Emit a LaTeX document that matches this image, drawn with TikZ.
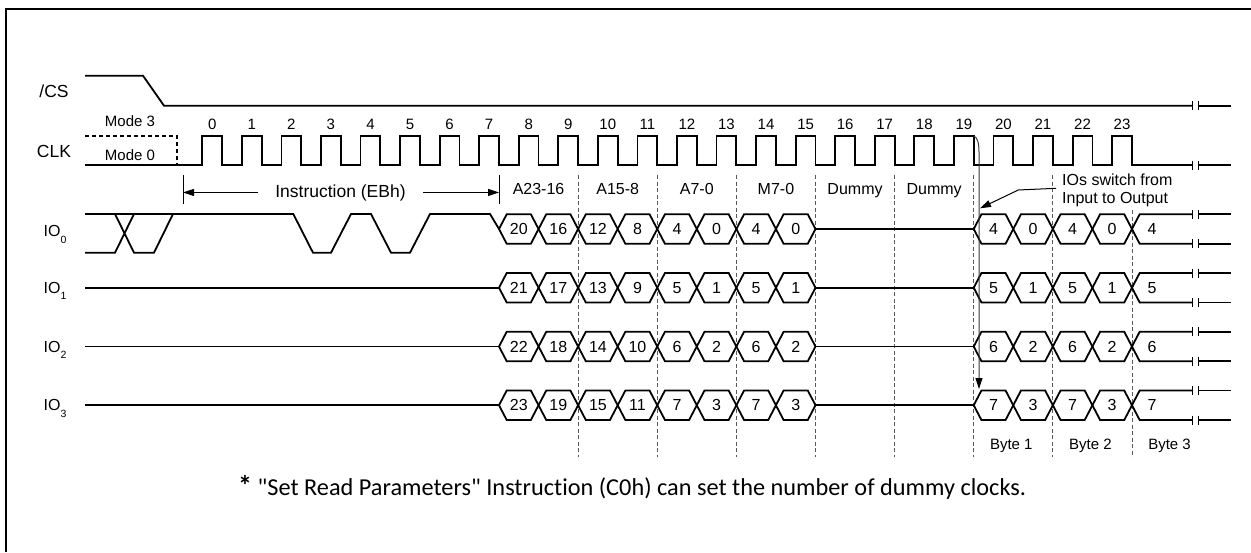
\documentclass[tikz,border=0pt]{standalone}
\usepackage{fontspec}
\setmainfont{Liberation Sans}
\newfontfamily\notefont[Ligatures=NoCommon]{Carlito}
\usetikzlibrary{arrows.meta}

\newcommand\ioname[1]{IO\raisebox{-6.5pt}{\fontsize{10.5}{12}\selectfont #1}}
\newcommand\hexcell[5]{%
  \draw[wave] (#1,#3) -- ({#1+7.7},{#3-14.75}) -- ({#2-7.7},{#3-14.75}) -- (#2,#3) %
    -- ({#2-7.7},{#3+14.75}) -- ({#1+7.7},{#3+14.75}) -- cycle;
  \node[hexnum,anchor=base] (#5) at ({(#1+#2)/2},{#3+5.6}) {#4};}

\begin{document}
\begin{tikzpicture}[x=1pt,y=-1pt,
    every node/.style={inner sep=0pt},
    wave/.style={line width=1.8pt},
    guide/.style={gray!70!black,line width=0.9pt,dash pattern=on 4pt off 2.5pt},
    marker/.style={line width=1pt},
    pointer/.style={line width=1pt,-{Triangle[length=11pt,width=7pt,color=black]}},
    signame/.style={font=\fontsize{17.5}{20}\selectfont},
    clknum/.style={font=\fontsize{15}{18}\selectfont},
    field/.style={font=\fontsize{16}{19}\selectfont},
    hexnum/.style={font=\fontsize{16}{19}\selectfont},
    remark/.style={font=\notefont\fontsize{24.3}{28}\selectfont}]
  \useasboundingbox (0,0) rectangle (1251,552);
  \draw[line width=2.2pt] (6,552) -- (6,9) -- (1251,9);

  \foreach \k in {9,11,...,21}
    \draw[guide] ({222.08+39.56*\k},175) -- ({222.08+39.56*\k},457);
  \draw[guide] ({222.08+39.56*23},210) -- ({222.08+39.56*23},457);

  % /CS and CLK
  \node[signame,anchor=base] (cs) at (54,97) {/CS};
  \draw[wave] (85,75.7) -- (143,75.7) -- (164,105.7) -- (1192,105.7);
  \draw[wave] (1198,105.7) -- (1231,105.7);
  \node[signame,anchor=base] (clk) at (54,157) {CLK};
  \node[clknum,anchor=base] (m3) at (130,126.3) {Mode 3};
  \node[clknum,anchor=base] (m0) at (130,160) {Mode 0};
  \draw[wave,dash pattern=on 4pt off 3pt] (85,136) -- (177,136) -- (177,165);
  \draw[wave] (85,165) foreach \k in {0,...,23} {-- ({202.3+39.56*\k},165) -- ++(0,-29) -- ++(19.78,0) -- ++(0,29)} -- (1192,165);
  \draw[wave] (1198,165) -- (1231,165);
  \foreach \k in {0,...,23}
    \node[clknum,anchor=base] (n\k) at ({212.2+39.56*\k},129) {\k};
  \foreach \yy in {105.7,165}
    \draw[marker] (1192,{\yy-4.5}) -- (1192,{\yy+4.5}) (1198,{\yy-4.5}) -- (1198,{\yy+4.5});

  % instruction and field labels
  \draw[marker] (183,175) -- (183,204);
  \draw[marker] (499,175) -- (499,204);
  \coordinate (il) at (183,192);
  \coordinate (ir) at (499,192);
  \node[field,font=\fontsize{17.5}{20}\selectfont,anchor=base,inner xsep=17pt] (instr) at (340.5,197) {Instruction (EBh)};
  \draw[pointer] (instr.west) -- (instr.west -| il);
  \draw[pointer] (instr.east) -- (instr.east -| ir);
  \foreach \t [count=\c from 0] in {A23-16,A15-8,A7-0,M7-0,Dummy,Dummy}
    \node[field,anchor=base] (f\c) at ({222.08+39.56*(8+2*\c)},194.5) {\t};
  \foreach \t [count=\c from 1] in {Byte 1,Byte 2,Byte 3}
    \node[field,font=\fontsize{15}{18}\selectfont,anchor=base] (b\c) at ({222.08+39.56*(18+2*\c)-2},449) {\t};

  % IO0 instruction bits
  \draw[wave] (85,214) -- (293.3,214) -- (313,252.7) -- (331,252.7) -- (351,214) -- (371,214) %
    -- (391,252.7) -- (410,252.7) -- (430,214) -- (490,214) -- (499,229);
  \draw[wave] (85,252.7) -- (115,252.7) -- (134,214) (115,214) -- (134,252.7) -- (154,252.7) -- (173,214);

  \foreach \i in {0,...,3}{
    \pgfmathsetmacro\cy{229+58.75*\i}
    \node[signame,font=\fontsize{16}{19}\selectfont,anchor=base] (io\i) at (55,{\cy+5.5+2*(\i==0)}) {\ioname{\i}};
    \ifnum\i>0 \draw[wave] (85,\cy) -- (499,\cy); \fi
    \foreach \j in {0,...,7}{
      \pgfmathsetmacro\xa{222.08+39.56*(7+\j)}
      \pgfmathsetmacro\xb{\xa+39.56}
      \pgfmathtruncatemacro\v{ifthenelse(\j<4,20-4*\j,4*(1-mod(\j,2)))+\i}
      \hexcell{\xa}{\xb}{\cy}{\v}{a\i-\j}
    }
    \draw[wave] ({222.08+39.56*15},\cy) -- ({222.08+39.56*19},\cy);
    \foreach \j in {0,...,3}{
      \pgfmathsetmacro\xa{222.08+39.56*(19+\j)}
      \pgfmathsetmacro\xb{\xa+39.56}
      \pgfmathtruncatemacro\v{4*(1-mod(\j,2))+\i}
      \hexcell{\xa}{\xb}{\cy}{\v}{d\i-\j}
    }
    \pgfmathtruncatemacro\w{4+\i}
    \draw[wave] (1192,{\cy-14.75}) -- (1139.66,{\cy-14.75}) -- (1131.96,\cy) -- (1139.66,{\cy+14.75}) -- (1192,{\cy+14.75});
    \draw[wave] (1198,{\cy-14.75}) -- (1231,{\cy-14.75}) (1198,{\cy+14.75}) -- (1231,{\cy+14.75});
    \node[hexnum,anchor=base] (e\i) at (1152,{\cy+5.6}) {\w};
    \foreach \yy in {-14.75,14.75}
      \draw[marker] (1192,{\cy+\yy-4.5}) -- (1192,{\cy+\yy+4.5}) (1198,{\cy+\yy-4.5}) -- (1198,{\cy+\yy+4.5});
  }

  % direction change
  \draw[pointer,gray!45!black] (973.7,136) .. controls (977,137) and (979,142) .. (979,152) -- (979,389);
  \node[field,anchor=base west] (sw1) at (1062,185) {IOs switch from};
  \node[field,anchor=base west] (sw2) at (1062,203.3) {Input to Output};
  \coordinate (swstart) at (1056,188.3);
  \coordinate (swbend) at (1018.3,190);
  \coordinate (swtip) at (980,208.3);
  \draw[pointer] (swstart) -- (swbend) -- (swtip);

  \node[remark,anchor=base west] (remark) at (238,495) {\textbf{\fontsize{28}{28}\selectfont *} "Set Read Parameters" Instruction (C0h) can set the number of dummy clocks.};
\end{tikzpicture}
\end{document}
